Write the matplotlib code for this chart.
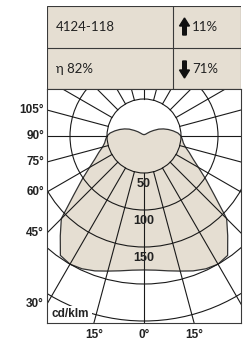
import numpy as np
import matplotlib
matplotlib.use("Agg")
import matplotlib.pyplot as plt
from matplotlib.patches import Rectangle, FancyArrow, Polygon, Circle

# luminous intensity (cd/klm) vs angle from nadir, symmetric
angles = [0, 5, 10, 15, 20, 25, 30, 35, 40, 45, 50, 55, 60, 65, 70, 75, 80, 85, 90,
          95, 100, 105, 110, 115, 120, 125, 130, 135, 140, 150, 160, 170, 180]
intensity = [181, 182, 185, 189, 194, 198, 200, 197, 176, 158, 124, 102, 85, 73, 65, 58, 54, 52, 50,
             46, 40, 34, 28, 22, 15, 10, 6, 4, 3, 2.5, 2, 2, 2]

rings = [50, 100, 150, 200, 250]
ring_labels = ["50", "100", "150"]
side_ticks = [105, 90, 75, 60, 45, 30]
bottom_ticks = [-15, 0, 15]

code = "4124-118"
eta = "\u03b7 82%"
up_pct = "11%"
down_pct = "71%"

beige = "#e5ded2"
ink = "#1a1a1a"

W, H = 246, 344
fig = plt.figure(figsize=(W / 100, H / 100), dpi=100)

# ---- header table ----
tab = fig.add_axes([47 / W, (H - 89) / H, 194 / W, 83 / H])
tab.set_xlim(0, 194)
tab.set_ylim(83, 0)
tab.axis("off")
tab.add_patch(Rectangle((0, 0), 194, 83, facecolor=beige, edgecolor="#3a3a3a", lw=0.8))
tab.plot([126, 126], [0, 83], color="#3a3a3a", lw=0.8)
tab.plot([0, 194], [42, 42], color="#3a3a3a", lw=0.8)
tfont = dict(family=["Lato", "DejaVu Sans"], fontsize=9.5, color="#222222", va="center")
tab.text(9, 21, code, **tfont)
tab.text(9, 63, eta, **tfont)
tab.text(145, 21, up_pct, **tfont)
tab.text(145, 63, down_pct, **tfont)
tab.add_patch(FancyArrow(137.5, 29, 0, -17, width=3.6, head_width=10, head_length=8,
                         length_includes_head=True, color="#111111"))
tab.add_patch(FancyArrow(137.5, 55, 0, 17, width=3.6, head_width=10, head_length=8,
                         length_includes_head=True, color="#111111"))

# ---- polar diagram on a cartesian axes ----
S = 50 / 37.0  # cd/klm per pixel
ax = fig.add_axes([47 / W, (H - 323) / H, 194 / W, 234 / H])
x0, x1 = -97 * S, 97 * S
y0, y1 = -187 * S, 47 * S
ax.set_xlim(x0, x1)
ax.set_ylim(y0, y1)
ax.set_xticks([])
ax.set_yticks([])
for sp in ax.spines.values():
    sp.set_color("#3a3a3a")
    sp.set_linewidth(0.8)

th = np.radians(angles)
r = np.array(intensity, dtype=float)
xr = r * np.sin(th)
yr = -r * np.cos(th)
xs = np.concatenate([xr, -xr[::-1]])
ys = np.concatenate([yr, yr[::-1]])
ax.add_patch(Polygon(np.column_stack([xs, ys]), closed=True, facecolor=beige,
                     edgecolor="#333333", lw=0.9, zorder=1))

for rr in rings:
    ax.add_patch(Circle((0, 0), rr, fill=False, edgecolor=ink, lw=0.8, zorder=2))

for a in range(0, 360, 15):
    t = np.radians(a)
    ax.plot([50 * np.sin(t), 400 * np.sin(t)], [-50 * np.cos(t), -400 * np.cos(t)],
            color=ink, lw=0.8, zorder=2)

lfont = dict(family="Liberation Sans", fontweight="bold", color="#222222")
for rr, lab in zip(rings, ring_labels):
    ax.text(0, -(rr + 15), lab, ha="center", va="center", fontsize=9, zorder=3, **lfont)

pad = 3 * S
for a in side_ticks:
    t = np.radians(a)
    yy = x0 * np.cos(t) / np.sin(t)
    ax.text(x0 - pad, yy, f"{a}\u00b0", ha="right", va="center", fontsize=8.5,
            clip_on=False, **lfont)

for a in bottom_ticks:
    t = np.radians(abs(a))
    xx = np.sign(a) * (-y0) * np.tan(t)
    ax.text(xx, y0 - 12 * S, f"{abs(a)}\u00b0", ha="center", va="center", fontsize=8.5,
            clip_on=False, **lfont)

ax.text(x0 + 5 * S, y0 + 9 * S, "cd/klm", ha="left", va="center", fontsize=8.5, zorder=4,
        bbox=dict(facecolor="white", edgecolor="none", pad=1.5), **lfont)

fig.savefig("out.png", dpi=100)
